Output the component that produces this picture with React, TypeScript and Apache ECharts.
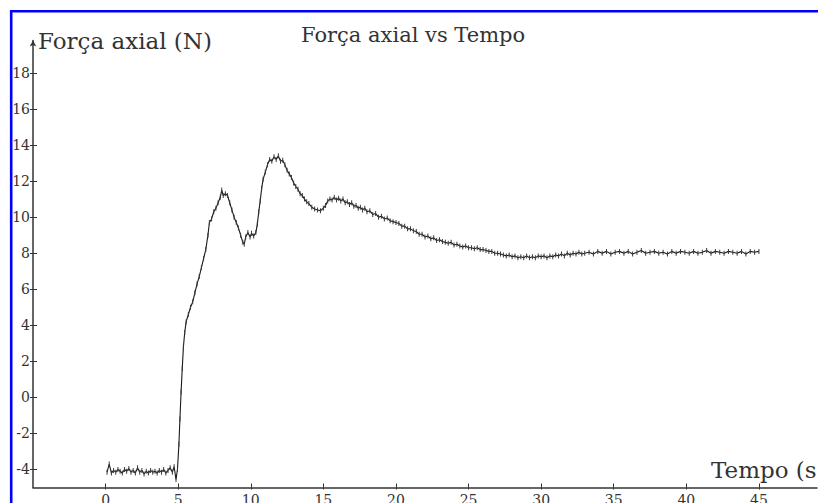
import React, { useEffect, useRef } from "react";
import * as echarts from "echarts";

const chartTitle = "Força axial vs Tempo";
const yAxisName = "Força axial (N)";
const xAxisName = "Tempo (s)";
const xTicks = [0, 5, 10, 15, 20, 25, 30, 35, 40, 45];
const yTicks = [-4, -2, 0, 2, 4, 6, 8, 10, 12, 14, 16, 18];

// [time (s), axial force (N)]
const baseline: [number, number][] = [
  [0.1, -4.15], [0.25, -3.7], [0.4, -4.2], [0.55, -4.05], [0.7, -4.15], [0.85, -4.0],
  [1.0, -4.1], [1.15, -4.2], [1.3, -4.0], [1.45, -4.1], [1.6, -3.95], [1.75, -4.15],
  [1.9, -4.05], [2.05, -4.2], [2.2, -3.9], [2.35, -4.15], [2.5, -4.05], [2.65, -4.25],
  [2.8, -4.1], [2.95, -4.2], [3.1, -4.05], [3.25, -4.15], [3.4, -4.1], [3.55, -4.2],
  [3.7, -4.05], [3.85, -4.15], [4.0, -4.0], [4.15, -4.2], [4.3, -4.05], [4.45, -3.9],
  [4.6, -4.15], [4.72, -3.85], [4.85, -4.55],
];

const rise: [number, number][] = [
  [4.95, -4.0], [5.05, -2.6], [5.12, -1.2], [5.2, 0.3], [5.28, 1.6], [5.36, 2.8],
  [5.45, 3.6], [5.55, 4.2], [5.7, 4.6], [5.85, 5.0], [6.0, 5.3], [6.15, 5.8],
  [6.3, 6.3], [6.45, 6.7], [6.6, 7.2], [6.75, 7.7], [6.9, 8.2], [7.05, 9.0],
  [7.15, 9.7], [7.3, 9.9], [7.45, 10.3], [7.6, 10.5], [7.75, 10.8], [7.9, 11.1],
  [8.0, 11.5], [8.1, 11.2], [8.25, 11.3], [8.4, 11.2],
];

const peaks: [number, number][] = [
  [8.55, 10.8], [8.7, 10.4], [8.85, 10.0], [9.0, 9.7], [9.15, 9.4], [9.3, 9.0],
  [9.45, 8.6], [9.55, 8.5], [9.65, 8.9], [9.8, 9.15], [9.95, 8.9], [10.05, 9.1],
  [10.2, 8.95], [10.35, 9.15], [10.45, 9.6], [10.55, 10.3], [10.65, 10.9], [10.75, 11.6],
  [10.85, 12.1], [11.0, 12.5], [11.15, 12.9], [11.3, 13.2], [11.45, 13.1], [11.6, 13.35],
  [11.75, 13.2], [11.9, 13.4], [12.05, 13.1], [12.2, 13.15], [12.35, 12.9], [12.5, 12.6],
  [12.65, 12.4], [12.8, 12.2], [12.95, 11.9], [13.1, 11.7], [13.25, 11.55], [13.4, 11.3],
  [13.55, 11.2], [13.7, 11.0], [13.85, 10.85], [14.0, 10.75], [14.2, 10.55], [14.4, 10.45],
  [14.6, 10.4], [14.8, 10.35], [15.0, 10.5], [15.15, 10.65], [15.3, 10.9], [15.45, 11.0],
  [15.6, 10.95], [15.75, 11.1], [15.9, 10.95], [16.05, 11.05],
];

const decay: [number, number][] = [
  [16.2, 10.9], [16.35, 11.0], [16.5, 10.8], [16.65, 10.85], [16.8, 10.7], [16.95, 10.8],
  [17.1, 10.6], [17.25, 10.65], [17.4, 10.5], [17.55, 10.55], [17.7, 10.4], [17.85, 10.5],
  [18.0, 10.3], [18.2, 10.35], [18.4, 10.15], [18.6, 10.2], [18.8, 10.0], [19.0, 10.05],
  [19.2, 9.9], [19.4, 9.95], [19.6, 9.8], [19.8, 9.75], [20.0, 9.7], [20.2, 9.65],
  [20.4, 9.5], [20.6, 9.5], [20.8, 9.35], [21.0, 9.35], [21.2, 9.25], [21.4, 9.2],
  [21.6, 9.05], [21.8, 9.05], [22.0, 8.9], [22.2, 8.95], [22.4, 8.8], [22.6, 8.85],
  [22.8, 8.7], [23.0, 8.75], [23.2, 8.65], [23.4, 8.6], [23.6, 8.55], [23.8, 8.6],
  [24.0, 8.45], [24.2, 8.5], [24.4, 8.4], [24.6, 8.35], [24.8, 8.4], [25.0, 8.3],
  [25.2, 8.3], [25.4, 8.25], [25.6, 8.3], [25.8, 8.2], [26.0, 8.2], [26.2, 8.15],
  [26.4, 8.1], [26.6, 8.1], [26.8, 8.0], [27.0, 8.0], [27.2, 7.95], [27.4, 7.9],
  [27.6, 7.85], [27.8, 7.9], [28.0, 7.8], [28.2, 7.85], [28.4, 7.75], [28.6, 7.8],
  [28.8, 7.75], [29.0, 7.85], [29.2, 7.75], [29.4, 7.8], [29.6, 7.75], [29.8, 7.85],
  [30.0, 7.8], [30.2, 7.85], [30.4, 7.75], [30.6, 7.85], [30.8, 7.8], [31.0, 7.9],
  [31.2, 7.85], [31.4, 7.95], [31.6, 7.85], [31.8, 8.0], [32.0, 7.9], [32.2, 8.0],
  [32.4, 7.95], [32.6, 8.05], [32.8, 7.95], [33.0, 8.0],
];

const plateau: [number, number][] = [
  [33.3, 8.05], [33.6, 7.95], [33.9, 8.1], [34.2, 8.0], [34.5, 8.1], [34.8, 7.95],
  [35.1, 8.05], [35.4, 8.1], [35.7, 8.0], [36.0, 8.1], [36.3, 7.95], [36.6, 8.05],
  [36.9, 8.15], [37.2, 8.0], [37.5, 8.05], [37.8, 8.1], [38.1, 8.0], [38.4, 8.05],
  [38.7, 7.95], [39.0, 8.1], [39.3, 8.0], [39.6, 8.1], [39.9, 8.05], [40.2, 8.0],
  [40.5, 8.1], [40.8, 8.0], [41.1, 8.05], [41.4, 8.15], [41.7, 8.0], [42.0, 8.1],
  [42.3, 8.05], [42.6, 8.0], [42.9, 8.1], [43.2, 8.05], [43.5, 8.0], [43.8, 8.1],
  [44.1, 7.95], [44.4, 8.1], [44.7, 8.05], [45.0, 8.1],
];

const FONT = "'DejaVu Serif', 'Liberation Serif', serif";
const INK = "#333333";

export default function App() {
  const ref = useRef<HTMLDivElement>(null);

  useEffect(() => {
    if (!ref.current) return;
    const chart = echarts.init(ref.current, null, { renderer: "svg" });
    const data = [...baseline, ...rise, ...peaks, ...decay, ...plateau];

    const xCommon = {
      type: "value",
      min: -5,
      max: 49,
      position: "bottom",
      splitLine: { show: false },
    };
    const yCommon = {
      type: "value",
      min: -5,
      max: 19.8,
      position: "left",
      splitLine: { show: false },
    };

    chart.setOption({
      animation: false,
      backgroundColor: "#ffffff",
      textStyle: { fontFamily: FONT },
      title: {
        text: chartTitle,
        left: 296,
        top: 19,
        textStyle: { fontFamily: FONT, fontSize: 21, fontWeight: "normal", color: INK },
      },
      grid: {
        left: 33,
        right: 1,
        top: 40.5,
        bottom: 15.5,
        containLabel: false,
        outerBoundsMode: "none",
      },
      xAxis: [
        {
          ...xCommon,
          name: xAxisName,
          nameLocation: "end",
          nameGap: -106,
          nameTextStyle: {
            fontFamily: FONT,
            fontSize: 23,
            color: INK,
            align: "left",
            verticalAlign: "bottom",
            padding: [0, 0, 6, 0],
          },
          axisLine: { show: true, onZero: false, lineStyle: { color: INK, width: 1.5 } },
          axisTick: { show: true, length: 2, inside: false, customValues: xTicks, lineStyle: { color: INK } },
          axisLabel: { show: true, customValues: xTicks, margin: 5, fontFamily: FONT, fontSize: 14, color: INK },
        },
        {
          ...xCommon,
          axisLine: { show: false, onZero: false },
          axisTick: { show: true, length: 4, inside: true, customValues: xTicks, lineStyle: { color: INK } },
          axisLabel: { show: false },
        },
      ],
      yAxis: [
        {
          ...yCommon,
          name: yAxisName,
          nameLocation: "end",
          nameGap: 0,
          nameTextStyle: {
            fontFamily: FONT,
            fontSize: 23,
            color: INK,
            align: "left",
            verticalAlign: "middle",
            padding: [0, 0, 0, 5],
          },
          axisLine: {
            show: true,
            onZero: false,
            symbol: ["none", "arrow"],
            symbolSize: [5, 6],
            lineStyle: { color: INK, width: 1.5 },
          },
          axisTick: { show: true, length: 3, inside: false, customValues: yTicks, lineStyle: { color: INK } },
          axisLabel: { show: true, customValues: yTicks, margin: 3, fontFamily: FONT, fontSize: 14, color: INK },
        },
        {
          ...yCommon,
          axisLine: { show: false, onZero: false },
          axisTick: { show: true, length: 4, inside: true, customValues: yTicks, lineStyle: { color: INK } },
          axisLabel: { show: false },
        },
      ],
      graphic: [
        {
          type: "rect",
          z: 100,
          silent: true,
          shape: { x: 11.2, y: 11.3, width: 1000, height: 700 },
          style: { fill: "none", stroke: "#0000ff", lineWidth: 2.6 },
        },
      ],
      series: [
        {
          type: "line",
          xAxisIndex: 0,
          yAxisIndex: 0,
          data,
          showSymbol: true,
          showAllSymbol: true,
          symbol: "path://M0,0L1,0L1,10L0,10Z",
          symbolSize: [1, 5],
          itemStyle: { color: "#3a3a3a" },
          lineStyle: { color: "#1a1a1a", width: 1.1 },
          clip: false,
        },
      ],
    });

    return () => chart.dispose();
  }, []);

  return (
    <div
      ref={ref}
      style={{ position: "fixed", left: 0, top: 0, width: 818, height: 503, background: "#fff" }}
    />
  );
}
